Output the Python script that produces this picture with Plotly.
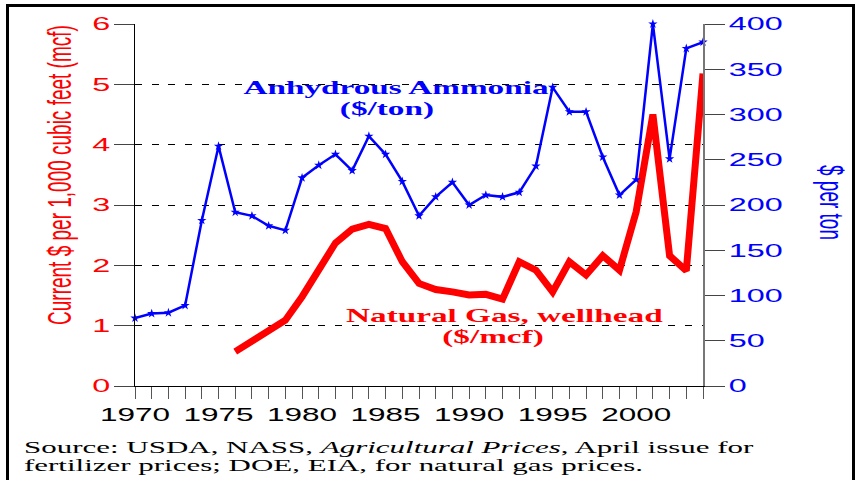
import plotly.graph_objects as go

# ---------------- data ----------------
years_ammonia = [1970, 1971, 1972, 1973, 1974, 1975, 1976, 1977, 1978, 1979,
                 1980, 1981, 1982, 1983, 1984, 1985, 1986, 1987, 1988, 1989,
                 1990, 1991, 1992, 1993, 1994, 1995, 1996, 1997, 1998, 1999,
                 2000, 2001, 2002, 2003, 2004]
ammonia_price = [75, 80, 81, 89, 183, 265, 192, 188, 177, 172,
                 230, 244, 256, 238, 276, 256, 226, 188, 209, 225,
                 200, 211, 209, 214, 243, 330, 303, 303, 253, 211,
                 228, 400, 251, 373, 380]

years_gas = [1976, 1977, 1978, 1979, 1980, 1981, 1982, 1983, 1984, 1985,
             1986, 1987, 1988, 1989, 1990, 1991, 1992, 1993, 1994, 1995,
             1996, 1997, 1998, 1999, 2000, 2001, 2002, 2003, 2004]
gas_price = [0.57, 0.75, 0.90, 1.09, 1.48, 1.92, 2.37, 2.60, 2.68, 2.61,
             2.06, 1.70, 1.60, 1.56, 1.51, 1.52, 1.44, 2.06, 1.92, 1.56,
             2.06, 1.84, 2.16, 1.92, 2.89, 4.50, 2.16, 1.91, 5.18]

x_tick_years = [1970, 1975, 1980, 1985, 1990, 1995, 2000]

# ---------------- geometry ----------------
W, H = 860, 480
L, R, T, B = 135, 157, 24, 94
PW = W - L - R
PH = H - T - B


def px(x):
    return (x - L) / PW


def py(y):
    return (H - B - y) / PH


RED = "#FF0000"
BLUE = "#0000FF"
SANS = "Liberation Sans, Arial, sans-serif"
SERIF = "Liberation Serif, Times New Roman, serif"

fig = go.Figure()
fig.add_trace(go.Scatter(
    x=years_ammonia, y=ammonia_price, yaxis="y2", mode="lines+markers",
    line=dict(color=BLUE, width=2.5),
    marker=dict(symbol="star", size=7, color=BLUE),
    cliponaxis=False, hoverinfo="skip"))
fig.add_trace(go.Scatter(
    x=years_gas, y=gas_price, mode="lines",
    line=dict(color=RED, width=7),
    cliponaxis=False, hoverinfo="skip"))

fig.update_layout(
    width=W, height=H,
    margin=dict(l=L, r=R, t=T, b=B, pad=0),
    paper_bgcolor="white", plot_bgcolor="white",
    showlegend=False,
    xaxis=dict(
        range=[1970, 2004], tickvals=x_tick_years,
        ticks="outside", ticklen=12, tickcolor="#555", tickwidth=1,
        showline=True, linecolor="black", linewidth=1,
        showgrid=False, zeroline=False,
        tickfont=dict(family=SANS, size=18, color="black"),
        minor=dict(dtick=1, tick0=1970, ticks="outside", ticklen=12,
                   tickcolor="#555", tickwidth=1, showgrid=False),
    ),
    yaxis=dict(
        range=[0, 6], dtick=1,
        ticks="outside", ticklen=20, tickcolor="#444", tickwidth=1,
        showline=True, linecolor="black", linewidth=1,
        showgrid=True, gridcolor="black", gridwidth=1, griddash="7px,9.67px",
        zeroline=False,
        tickfont=dict(family=SANS, size=18.5, color=RED),
    ),
    yaxis2=dict(
        range=[0, 400], dtick=50, overlaying="y", side="right",
        ticks="outside", ticklen=20, tickcolor="#444", tickwidth=1,
        showline=True, linecolor="#777", linewidth=2,
        showgrid=False, zeroline=False,
        tickfont=dict(family=SANS, size=18.5, color=BLUE),
    ),
)

annotations = [
    dict(text="Anhydrous Ammonia", x=px(396), y=py(87), color=BLUE),
    dict(text="($/ton)", x=px(387), y=py(109), color=BLUE),
    dict(text="Natural Gas, wellhead", x=px(504), y=py(315), color=RED),
    dict(text="($/mcf)", x=px(493), y=py(337), color=RED),
]
for a in annotations:
    fig.add_annotation(text=a["text"], x=a["x"], y=a["y"], xref="paper", yref="paper",
                       xanchor="center", yanchor="middle", showarrow=False,
                       font=dict(family=SERIF, size=19, color=a["color"], weight="bold"))

fig.add_annotation(text="Current $ per 1,000 cubic feet (mcf)", textangle=-90,
                   x=px(59), y=py(175), xref="paper", yref="paper",
                   xanchor="center", yanchor="middle", showarrow=False,
                   font=dict(family=SANS, size=19, color=RED))
fig.add_annotation(text="$ per ton", textangle=90,
                   x=px(832), y=py(202), xref="paper", yref="paper",
                   xanchor="center", yanchor="middle", showarrow=False,
                   font=dict(family=SANS, size=19, color=BLUE))

fig.add_annotation(text="Source: USDA, NASS, <i>Agricultural Prices</i>, April issue for",
                   x=px(22), y=py(447), xref="paper", yref="paper",
                   xanchor="left", yanchor="middle", align="left", showarrow=False,
                   font=dict(family=SERIF, size=17.7, color="black"))
fig.add_annotation(text="fertilizer prices; DOE, EIA, for natural gas prices.",
                   x=px(22), y=py(465), xref="paper", yref="paper",
                   xanchor="left", yanchor="middle", align="left", showarrow=False,
                   font=dict(family=SERIF, size=17.7, color="black"))

# outer frame
frame = dict(type="line", xref="paper", yref="paper", line=dict(color="black", width=3))
fig.add_shape(**frame, x0=px(6), x1=px(855), y0=py(5.5), y1=py(5.5))
fig.add_shape(**frame, x0=px(7.5), x1=px(7.5), y0=py(5.5), y1=py(482))
fig.add_shape(**frame, x0=px(853.5), x1=px(853.5), y0=py(5.5), y1=py(482))

post = r"""
document.body.style.margin = '0';
var gd = document.getElementById('{plot_id}');
var S = 1.75;
function hasRot(el){
  var n = el;
  while (n && n.getAttribute && n.tagName.toLowerCase() !== 'svg') {
    var t = n.getAttribute('transform');
    if (t) { var m = t.match(/rotate\(\s*(-?[\d.]+)/); if (m && Math.abs(parseFloat(m[1])) > 45) return true; }
    n = n.parentNode;
  }
  return false;
}
gd.querySelectorAll('svg.main-svg text').forEach(function(t){
  if (t.getAttribute('data-stretched')) return;
  var bb; try { bb = t.getBBox(); } catch(e) { return; }
  if (!bb || bb.width === 0) return;
  var a = t.getAttribute('text-anchor') || 'start';
  var cx = a === 'middle' ? bb.x + bb.width/2 : (a === 'end' ? bb.x + bb.width : bb.x);
  var cy = bb.y + bb.height/2;
  var sc = hasRot(t) ? 'scale(1,' + S + ')' : 'scale(' + S + ',1)';
  var tr = t.getAttribute('transform') || '';
  t.setAttribute('transform', tr + ' translate(' + cx + ',' + cy + ') ' + sc + ' translate(' + (-cx) + ',' + (-cy) + ')');
  t.setAttribute('data-stretched', '1');
});
"""

fig.write_html("out.html", config={"displayModeBar": False}, post_script=post)
